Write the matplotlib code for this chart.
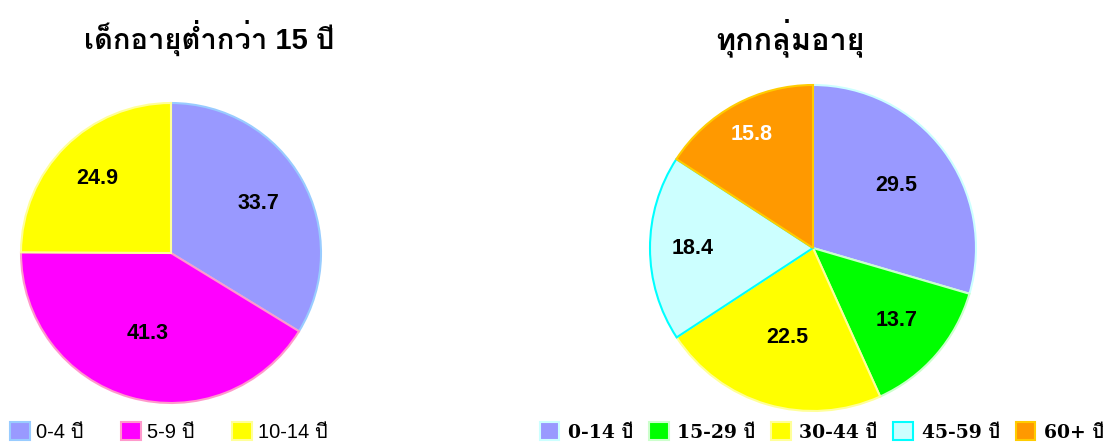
import matplotlib

matplotlib.use("Agg")

import matplotlib.pyplot as plt
import numpy as np
from matplotlib import font_manager
from matplotlib.ft2font import FT2Font

# ---- data -------------------------------------------------------------
child_labels = ["0-4 ปี", "5-9 ปี", "10-14 ปี"]
child_values = [33.7, 41.3, 24.9]

all_labels = ["0-14 ปี", "15-29 ปี", "30-44 ปี", "45-59 ปี", "60+ ปี"]
all_values = [29.5, 13.7, 22.5, 18.4, 15.8]

child_title = "เด็กอายุต่ำกว่า 15 ปี"
all_title = "ทุกกลุ่มอายุ"

# ---- styling ----------------------------------------------------------
child_colors = ["#9999ff", "#ff00ff", "#ffff00"]
child_edges = ["#99ccff", "#ff99cc", "#ffff99"]
child_label_r = [0.67, 0.56, 0.70]
child_label_colors = ["black", "black", "black"]

all_colors = ["#9999ff", "#00ff00", "#ffff00", "#ccffff", "#ff9900"]
all_edges = ["#ccffff", "#ccffcc", "#ffff99", "#00ffff", "#ffcc00"]
all_label_r = [0.64, 0.68, 0.57, 0.74, 0.79]
all_label_colors = ["black", "black", "black", "black", "white"]


def thai_families():
    """Installed families that actually carry Thai glyphs."""
    found = []
    for entry in font_manager.fontManager.ttflist:
        try:
            cmap = FT2Font(entry.fname).get_charmap()
        except Exception:
            continue
        if 0x0E1B in cmap and entry.name not in found:
            found.append(entry.name)
    return found


THAI = thai_families()
SANS = ["Liberation Sans"] + THAI + ["DejaVu Sans"]
SERIF = ["DejaVu Serif"] + THAI + ["DejaVu Sans"]


def draw_pie(ax, values, colors, edges, label_r, label_colors):
    wedges, _ = ax.pie(
        values,
        colors=colors,
        startangle=90,
        counterclock=False,
        radius=1.0,
        wedgeprops=dict(linewidth=1.5),
    )
    for w, ec in zip(wedges, edges):
        w.set_edgecolor(ec)
    for w, v, r, tc in zip(wedges, values, label_r, label_colors):
        mid = np.deg2rad((w.theta1 + w.theta2) / 2)
        ax.text(r * np.cos(mid), r * np.sin(mid), f"{v:.1f}",
                ha="center", va="center", fontsize=15.5,
                fontweight="bold", color=tc, family=SANS)
    ax.set_xlim(-1.02, 1.02)
    ax.set_ylim(-1.02, 1.02)
    ax.set_aspect("equal")
    return wedges


fig = plt.figure(figsize=(11.18, 4.46), dpi=100)
W, H = 1118, 446

# left pie: centre (171, 253), radius 150 px
r1 = 150 * 1.02
ax1 = fig.add_axes([(171 - r1) / W, 1 - (253 + r1) / H, 2 * r1 / W, 2 * r1 / H])
w1 = draw_pie(ax1, child_values, child_colors, child_edges,
              child_label_r, child_label_colors)

# right pie: centre (813, 248), radius 163 px
r2 = 163 * 1.02
ax2 = fig.add_axes([(813 - r2) / W, 1 - (248 + r2) / H, 2 * r2 / W, 2 * r2 / H])
w2 = draw_pie(ax2, all_values, all_colors, all_edges,
              all_label_r, all_label_colors)

fig.text(209 / W, 1 - 38 / H, child_title, ha="center", va="center",
         fontsize=21, fontweight="bold", family=SANS)
fig.text(790 / W, 1 - 38 / H, all_title, ha="center", va="center",
         fontsize=22, fontweight="bold", family=SANS)

fig.legend(w1, child_labels, loc="center left",
           bbox_to_anchor=(2 / W, 1 - 432 / H), ncol=3, frameon=False,
           prop=dict(family=SANS, size=14.5), handlelength=1.0,
           handleheight=1.0, handletextpad=0.3, columnspacing=1.85,
           borderaxespad=0)

fig.legend(w2, all_labels, loc="center left",
           bbox_to_anchor=(532 / W, 1 - 432 / H), ncol=5, frameon=False,
           prop=dict(family=SERIF, size=13.5, weight="bold"),
           handlelength=1.05, handleheight=1.05, handletextpad=0.45,
           columnspacing=0.85, borderaxespad=0)

fig.savefig("out.png", dpi=100)
